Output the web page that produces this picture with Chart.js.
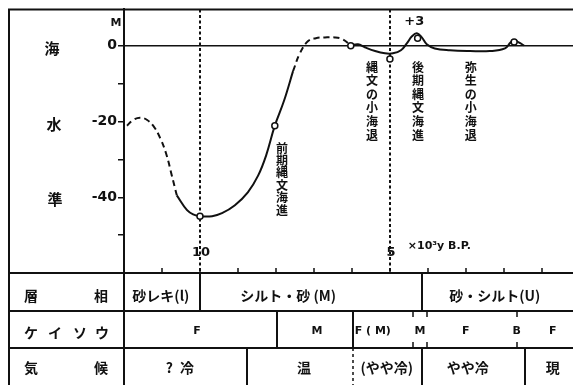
<!DOCTYPE html>
<html><head><meta charset="utf-8">
<script src="https://cdn.jsdelivr.net/npm/chart.js@4/dist/chart.umd.min.js"></script>
<style>html,body{margin:0;padding:0;background:#fff;}canvas{display:block;}</style>
</head><body>
<canvas id="c" width="573" height="385"></canvas>
<script>
// ---------- DATA (age in 10^3 y B.P., sea level in m) ----------
const ageTicks = [11, 10, 9, 8, 7, 6, 5, 4, 3, 2, 1];
const ageLabelValues = [10, 5];
const ageLabelTexts = ['10', '5'];
const levelTicks = [0, -10, -20, -30, -40, -50];
const levelTickLabels = ['0', '', '-20', '', '-40', ''];

const zeroAge = [12, 0.18];
const zeroLevel = [0, 0];

const earlyDashAge   = [11.92, 11.76, 11.58, 11.39, 11.21, 11.05, 10.89, 10.74, 10.61];
const earlyDashLevel = [-21.1, -19.6, -19.0, -19.6, -21.4, -24.3, -28.5, -34.3, -39.5];

const mainAge   = [10.61, 10.34, 10.18, 10.0, 9.68, 9.42, 9.08, 8.74, 8.47, 8.26, 8.03, 7.79, 7.55];
const mainLevel = [-39.5, -43.4, -44.5, -45.0, -45.0, -44.2, -42.1, -38.7, -34.3, -29.0, -21.1, -14.6, -6.7];

const peakDashAge   = [7.55, 7.37, 7.16, 6.95, 6.71, 6.45, 6.24, 6.03];
const peakDashLevel = [-6.7, -2.0, 1.2, 2.0, 2.2, 2.2, 1.7, 0.1];

const lateAge   = [6.03, 5.84, 5.66, 5.39, 5.13, 4.92, 4.71, 4.55, 4.42, 4.29, 4.16, 4.03, 3.82, 3.42, 2.89, 2.37, 1.97, 1.82, 1.71, 1.61, 1.47];
const lateLevel = [0.1, 0.4, -0.4, -1.4, -2.0, -2.0, -1.2, 0.7, 2.5, 3.3, 2.2, 0.4, -0.7, -1.2, -1.4, -1.4, -0.7, 0.9, 1.4, 0.9, 0.1];

const markAge   = [10.0, 8.03, 6.03, 5.0, 4.27, 1.73];
const markLevel = [-45.0, -21.1, 0.0, -3.5, 2.0, 1.0];

const guideAges = [10, 5];

// table rows: boundaries (ages) and cell texts
const faciesBounds = [10, 4.16];
const faciesTexts = ['砂レキ(l)', 'シルト・砂 (M)', '砂・シルト(U)'];
const diatomSolidBounds = [7.97, 5.97];
const diatomTickBounds = [4.39, 4.03, 1.66];
const diatomTexts = ['F', 'M', 'F ( M)', 'M', 'F', 'B', 'F'];
const climateSolidBounds = [8.76, 4.16, 1.45];
const climateDashBounds = [5.97];
const climateTexts = ['?\u2002冷', '温', '(やや冷)', 'やや冷', '現'];

const notes = ['前期縄文海進', '縄文の小海退', '後期縄文海進', '弥生の小海退'];

// ---------- LAYOUT (not data) ----------
const faciesAt = [11.03, 7.68, 2.24];
const diatomAt = [10.08, 6.92, 5.45, 4.21, 3.0, 1.66, 0.71];
const climateAt = [10.53, 7.26, 5.08, 2.95, 0.71];
const notesAt = [{x: 7.84, y0: 148, step: 12.4}, {x: 5.47, y0: 67, step: 13.6}, {x: 4.26, y0: 67, step: 13.6}, {x: 2.87, y0: 67, step: 13.6}];

const INK = '#111';
const CJK = '"Noto Sans CJK JP", sans-serif';
const NUM = '"DejaVu Sans", sans-serif';
const pts = (a, l) => a.map((x, i) => ({x, y: l[i]}));

const tablePlugin = {
  id: 'table',
  beforeDatasetsDraw(chart) {
    const ctx = chart.ctx, xs = chart.scales.x, a = chart.chartArea;
    ctx.save();
    ctx.strokeStyle = INK; ctx.lineWidth = 2; ctx.setLineDash([3, 2.5]);
    guideAges.forEach(g => {
      const px = Math.round(xs.getPixelForValue(g));
      ctx.beginPath(); ctx.moveTo(px, a.top); ctx.lineTo(px, a.bottom); ctx.stroke();
    });
    ctx.restore();
  },
  afterDraw(chart) {
    const ctx = chart.ctx, xs = chart.scales.x, a = chart.chartArea;
    const W = chart.width, H = chart.height;
    const X = v => xs.getPixelForValue(v);
    const rowTop = [a.bottom, 311, 348];
    const rowBot = [311, 348, H + 2];
    ctx.save();
    ctx.strokeStyle = INK; ctx.fillStyle = INK;
    // frame
    ctx.lineWidth = 2;
    ctx.beginPath();
    ctx.moveTo(9, H); ctx.lineTo(9, a.top); ctx.lineTo(W, a.top);
    ctx.moveTo(a.left, a.bottom); ctx.lineTo(a.left, H);
    ctx.stroke();
    // table horizontals
    ctx.beginPath();
    rowTop.forEach(y => { ctx.moveTo(9, y); ctx.lineTo(W, y); });
    ctx.stroke();
    // x ticks (upward)
    ctx.lineWidth = 1.5;
    ctx.beginPath();
    ageTicks.forEach(t => { const px = Math.round(X(t)); ctx.moveTo(px, a.bottom); ctx.lineTo(px, a.bottom - 5); });
    ctx.stroke();
    // x labels
    ctx.font = 'bold 13px ' + NUM; ctx.textAlign = 'center'; ctx.textBaseline = 'middle';
    ageLabelValues.forEach((v, i) => ctx.fillText(ageLabelTexts[i], X(v) + 1, 253));
    ctx.font = 'bold 11px ' + NUM; ctx.textAlign = 'left';
    ctx.fillText('×10³y B.P.', X(4.53), 246);
    // unit & +3
    ctx.font = 'bold 11px ' + NUM; ctx.textAlign = 'center';
    ctx.fillText('M', 116, 23);
    ctx.font = 'bold 13px ' + NUM;
    ctx.fillText('+3', X(4.36), 22);
    // left labels
    ctx.font = 'bold 15px ' + CJK;
    ctx.fillText('海', 52, 48); ctx.fillText('水', 54, 124); ctx.fillText('準', 55, 199);
    // vertical notes
    ctx.font = 'bold 12px ' + CJK;
    notes.forEach((s, i) => {
      const n = notesAt[i];
      [...s].forEach((ch, k) => ctx.fillText(ch, X(n.x), n.y0 + k * n.step));
    });
    // table verticals
    ctx.lineWidth = 2;
    ctx.beginPath();
    faciesBounds.forEach(b => { const px = Math.round(X(b)); ctx.moveTo(px, rowTop[0]); ctx.lineTo(px, rowBot[0]); });
    diatomSolidBounds.forEach(b => { const px = Math.round(X(b)); ctx.moveTo(px, rowTop[1]); ctx.lineTo(px, rowBot[1]); });
    climateSolidBounds.forEach(b => { const px = Math.round(X(b)); ctx.moveTo(px, rowTop[2]); ctx.lineTo(px, rowBot[2]); });
    ctx.stroke();
    ctx.lineWidth = 1.5;
    ctx.beginPath();
    diatomTickBounds.forEach(b => {
      const px = Math.round(X(b));
      ctx.moveTo(px, rowTop[1]); ctx.lineTo(px, rowTop[1] + 6);
      ctx.moveTo(px, rowBot[1] - 6); ctx.lineTo(px, rowBot[1]);
    });
    ctx.stroke();
    ctx.setLineDash([3, 3]);
    ctx.beginPath();
    climateDashBounds.forEach(b => { const px = Math.round(X(b)); ctx.moveTo(px, rowTop[2]); ctx.lineTo(px, rowBot[2]); });
    ctx.stroke();
    ctx.setLineDash([]);
    // row labels
    ctx.font = 'bold 14px ' + CJK;
    ctx.fillText('層', 31, 296); ctx.fillText('相', 101, 296);
    ctx.fillText('ケ', 31, 333); ctx.fillText('イ', 55, 333); ctx.fillText('ソ', 80, 333); ctx.fillText('ウ', 102, 333);
    ctx.fillText('気', 31, 368); ctx.fillText('候', 101, 368);
    // cells
    ctx.font = 'bold 14px ' + CJK;
    faciesTexts.forEach((s, i) => ctx.fillText(s, X(faciesAt[i]), 296));
    climateTexts.forEach((s, i) => ctx.fillText(s, X(climateAt[i]), 368));
    ctx.font = 'bold 11px ' + NUM;
    diatomTexts.forEach((s, i) => ctx.fillText(s, X(diatomAt[i]), 331));
    ctx.restore();
  }
};

new Chart(document.getElementById('c'), {
  type: 'line',
  data: {
    datasets: [
      {data: pts(markAge, markLevel), showLine: false, pointRadius: 3, pointBackgroundColor: '#fff', pointBorderColor: INK, pointBorderWidth: 1.5},
      {data: pts(zeroAge, zeroLevel), borderColor: INK, borderWidth: 1.6, pointRadius: 0, tension: 0},
      {data: pts(earlyDashAge, earlyDashLevel), borderColor: INK, borderWidth: 2, borderDash: [6, 4], pointRadius: 0, tension: 0.4},
      {data: pts(mainAge, mainLevel), borderColor: INK, borderWidth: 2, pointRadius: 0, tension: 0.4},
      {data: pts(peakDashAge, peakDashLevel), borderColor: INK, borderWidth: 2, borderDash: [6, 4], pointRadius: 0, tension: 0.4},
      {data: pts(lateAge, lateLevel), borderColor: INK, borderWidth: 2, pointRadius: 0, tension: 0.4}
    ]
  },
  options: {
    responsive: false, animation: false, devicePixelRatio: 1,
    layout: {autoPadding: false, padding: {top: 8, bottom: 112, left: 0, right: 0}},
    plugins: {legend: {display: false}, tooltip: {enabled: false}},
    scales: {
      x: {type: 'linear', min: 0.18, max: 12, reverse: true, display: false},
      y: {
        type: 'linear', min: -60, max: 9.6,
        afterBuildTicks: s => { s.ticks = levelTicks.map(v => ({value: v})); },
        afterFit: s => { s.width = 124; },
        ticks: {
          autoSkip: false, padding: 1, color: INK,
          font: {family: 'DejaVu Sans', weight: 'bold', size: 14},
          callback: v => { const i = levelTicks.indexOf(v); return i < 0 ? '' : levelTickLabels[i]; }
        },
        grid: {drawOnChartArea: false, drawTicks: true, tickLength: 6, color: INK, lineWidth: 1.5},
        border: {display: true, color: INK, width: 2}
      }
    }
  },
  plugins: [tablePlugin]
});
</script>
</body></html>
